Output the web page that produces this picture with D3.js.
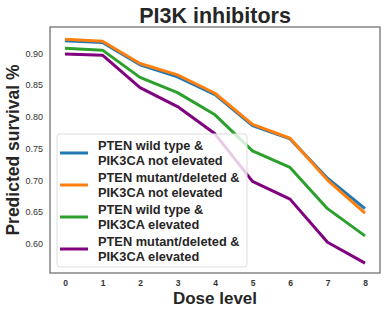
<!DOCTYPE html>
<html>
<head>
<meta charset="utf-8">
<script src="https://cdn.jsdelivr.net/npm/d3@7"></script>
<style>
  body { margin: 0; background: #fff; }
  svg { font-family: "Liberation Sans", Arial, sans-serif; }
</style>
</head>
<body>
<svg id="chart"></svg>
<script>
// dose levels on the x axis
const doses = [0, 1, 2, 3, 4, 5, 6, 7, 8];

// predicted survival per group
const wildNotElev   = [0.920, 0.917, 0.882, 0.863, 0.835, 0.786, 0.765, 0.703, 0.655];
const mutNotElev    = [0.922, 0.919, 0.884, 0.866, 0.837, 0.788, 0.766, 0.700, 0.648];
const wildElev      = [0.908, 0.905, 0.862, 0.838, 0.803, 0.746, 0.720, 0.655, 0.612];
const mutElev       = [0.899, 0.897, 0.846, 0.816, 0.773, 0.698, 0.670, 0.602, 0.569];

const seriesNames = [
    ["PTEN wild type &", "PIK3CA not elevated"],
    ["PTEN mutant/deleted &", "PIK3CA not elevated"],
    ["PTEN wild type &", "PIK3CA elevated"],
    ["PTEN mutant/deleted &", "PIK3CA elevated"]
];
const seriesColors = ["#1f77b4", "#ff7f0e", "#2ca02c", "#800080"];
const yTicks = [0.60, 0.65, 0.70, 0.75, 0.80, 0.85, 0.90];

const allSeries = [wildNotElev, mutNotElev, wildElev, mutElev];

const width = 390, height = 315;
const margin = { top: 27, right: 10, bottom: 42, left: 50 };
const innerW = width - margin.left - margin.right;
const innerH = height - margin.top - margin.bottom;

const svg = d3.select("#chart")
    .attr("width", width)
    .attr("height", height);

const g = svg.append("g")
    .attr("transform", `translate(${margin.left},${margin.top})`);

const x = d3.scaleLinear().domain([-0.4, 8.4]).range([0, innerW]);
const y = d3.scaleLinear().domain([0.5535, 0.9415]).range([innerH, 0]);

// axes without tick marks
g.append("g")
    .attr("transform", `translate(0,${innerH})`)
    .call(d3.axisBottom(x).tickValues(doses).tickSize(0).tickPadding(7).tickFormat(d3.format("d")))
    .call(a => a.select(".domain").remove())
    .selectAll("text")
    .attr("font-size", 8.5)
    .attr("font-weight", "bold")
    .attr("fill", "#333");

g.append("g")
    .call(d3.axisLeft(y).tickValues(yTicks).tickSize(0).tickPadding(7).tickFormat(d3.format(".2f")))
    .call(a => a.select(".domain").remove())
    .selectAll("text")
    .attr("font-size", 9)
    .attr("fill", "#333");

const line = d3.line()
    .x((d, i) => x(doses[i]))
    .y(d => y(d));

allSeries.forEach((s, i) => {
    g.append("path")
        .datum(s)
        .attr("fill", "none")
        .attr("stroke", seriesColors[i])
        .attr("stroke-width", 3)
        .attr("stroke-linejoin", "round")
        .attr("d", line);
});

// frame
g.append("rect")
    .attr("width", innerW)
    .attr("height", innerH)
    .attr("fill", "none")
    .attr("stroke", "#666")
    .attr("stroke-width", 1.2);

// legend
const leg = g.append("g").attr("transform", "translate(7,107)");
leg.append("rect")
    .attr("width", 190)
    .attr("height", 133)
    .attr("rx", 3)
    .attr("fill", "rgba(255,255,255,0.8)")
    .attr("stroke", "#ddd");

seriesNames.forEach((nm, i) => {
    const yy = 19 + i * 32;
    leg.append("line")
        .attr("x1", 3).attr("x2", 31)
        .attr("y1", yy).attr("y2", yy)
        .attr("stroke", seriesColors[i])
        .attr("stroke-width", 3);
    nm.forEach((t, j) => {
        leg.append("text")
            .attr("x", 41)
            .attr("y", yy - 7 + j * 14.5)
            .attr("dy", "0.35em")
            .attr("font-size", 12.8)
            .attr("font-weight", "bold")
            .attr("fill", "#262626")
            .text(t);
    });
});

// title and labels
svg.append("text")
    .attr("x", margin.left + innerW / 2)
    .attr("y", 23)
    .attr("text-anchor", "middle")
    .attr("font-size", 21.5)
    .attr("font-weight", "bold")
    .attr("fill", "#262626")
    .text("PI3K inhibitors");

svg.append("text")
    .attr("x", margin.left + innerW / 2)
    .attr("y", 304)
    .attr("text-anchor", "middle")
    .attr("font-size", 17)
    .attr("font-weight", "bold")
    .attr("fill", "#262626")
    .text("Dose level");

svg.append("text")
    .attr("transform", `translate(19,${margin.top + innerH / 2}) rotate(-90)`)
    .attr("text-anchor", "middle")
    .attr("font-size", 17.5)
    .attr("font-weight", "bold")
    .attr("fill", "#262626")
    .text("Predicted survival %");
</script>
</body>
</html>
